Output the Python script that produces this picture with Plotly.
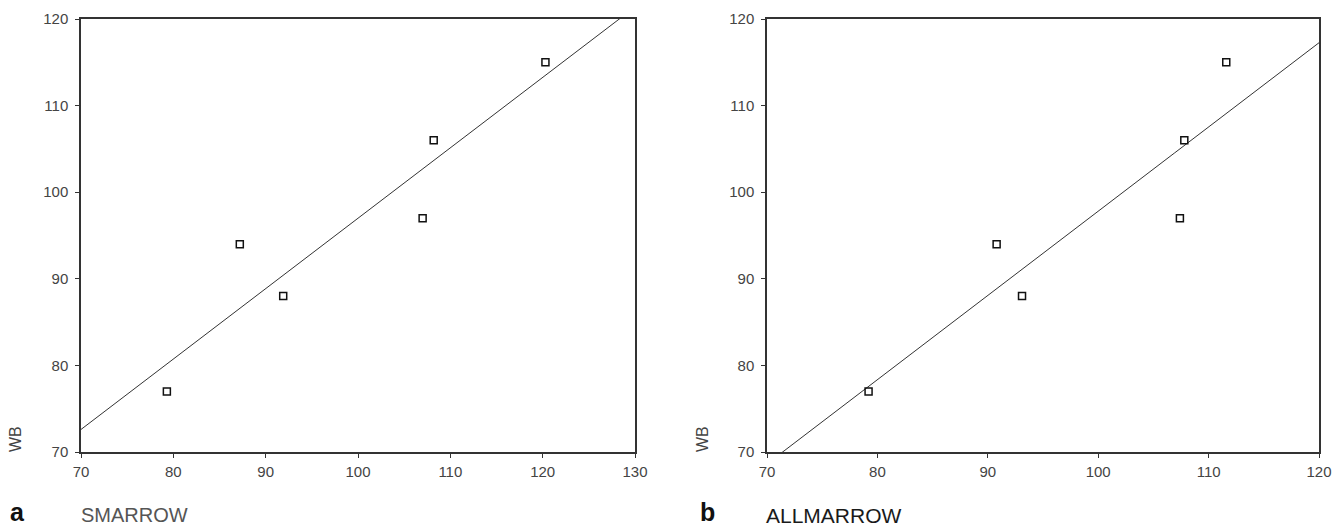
import numpy as np
import plotly.graph_objects as go

# Panel a: SMARROW vs WB
sm_x = [79.3, 87.2, 91.9, 107.0, 108.2, 120.3]
sm_y = [77, 94, 88, 97, 106, 115]
# Panel b: ALLMARROW vs WB
all_x = [79.2, 90.8, 93.1, 107.4, 107.8, 111.6]
all_y = [77, 94, 88, 97, 106, 115]

a_xticks = [70, 80, 90, 100, 110, 120, 130]
b_xticks = [70, 80, 90, 100, 110, 120]
yticks = [70, 80, 90, 100, 110, 120]

W, H = 1344, 527

def px(x):
    return x / W

def py(y):
    return 1 - y / H

fig = go.Figure()

def add_panel(xs, ys, xr, xa, ya):
    k, b = np.polyfit(xs, ys, 1)
    lx = np.linspace(xr[0], xr[1], 200)
    fig.add_trace(go.Scatter(x=lx, y=k * lx + b, mode="lines",
                             line=dict(color="#333333", width=1),
                             xaxis=xa, yaxis=ya, showlegend=False, hoverinfo="skip"))
    fig.add_trace(go.Scatter(x=xs, y=ys, mode="markers",
                             marker=dict(symbol="square-open", size=7,
                                         color="#111111", line=dict(width=1.5, color="#111111")),
                             xaxis=xa, yaxis=ya, showlegend=False))

add_panel(sm_x, sm_y, (70, 130), "x", "y")
add_panel(all_x, all_y, (70, 120), "x2", "y2")

axfont = dict(family="Liberation Sans, Arial, sans-serif", size=15, color="#444444")
common = dict(showgrid=False, zeroline=False, showline=True, linecolor="#333333",
              linewidth=1.5, mirror=True, ticks="outside", ticklen=4, tickwidth=1,
              tickcolor="#333333", tickfont=axfont, automargin=False)

fig.update_layout(
    width=W, height=H,
    margin=dict(l=0, r=0, t=0, b=0, pad=0, autoexpand=False),
    paper_bgcolor="white", plot_bgcolor="white",
    xaxis=dict(domain=[px(81), px(635)], range=[70, 130], tickvals=a_xticks,
               anchor="y", ticklabelstandoff=1, **common),
    yaxis=dict(domain=[py(452), py(19)], range=[70, 120], tickvals=yticks,
               anchor="x", ticklabelstandoff=4, **common),
    xaxis2=dict(domain=[px(767), px(1319)], range=[70, 120], tickvals=b_xticks,
                anchor="y2", ticklabelstandoff=1, **common),
    yaxis2=dict(domain=[py(452), py(19)], range=[70, 120], tickvals=yticks,
                anchor="x2", ticklabelstandoff=4, **common),
)

def note(x, y, text, font, xanchor="center", angle=0):
    fig.add_annotation(x=px(x), y=py(y), xref="paper", yref="paper", text=text,
                       xanchor=xanchor, yanchor="middle", textangle=angle,
                       showarrow=False, font=font)

lab = dict(family="Liberation Sans, Arial, sans-serif", size=16, color="#444444")
note(15, 439, "WB", lab, angle=-90)
note(702, 439, "WB", lab, angle=-90)

big = dict(family="Liberation Sans, Arial", size=25, color="#111111")
note(8, 512, "<b>a</b>", big, xanchor="left")
note(79, 515, "SMARROW", dict(family="Liberation Sans, Arial", size=20, color="#555555"), xanchor="left")
note(698, 512, "<b>b</b>", big, xanchor="left")
note(764, 515, "ALLMARROW", dict(family="Liberation Sans, Arial", size=21, color="#1a1a1a"), xanchor="left")

fig.write_html("out.html", config={"displayModeBar": False},
               post_script="document.body.style.margin='0';document.body.style.overflow='hidden';")
